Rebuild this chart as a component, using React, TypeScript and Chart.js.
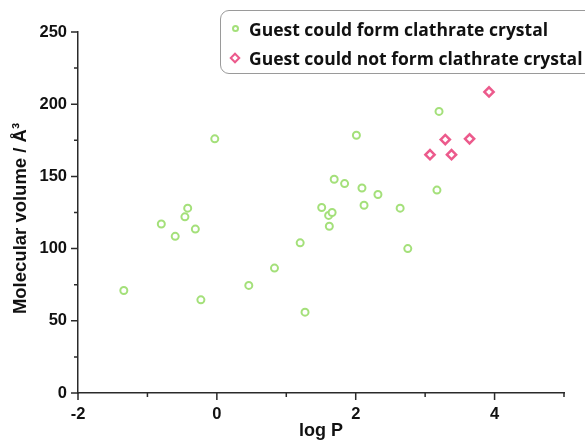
import React, { useEffect, useRef } from 'react';
import { Chart, registerables } from 'chart.js';

Chart.register(...registerables);

// ---- data ----
const formLogP = [-1.34, -0.8, -0.6, -0.46, -0.42, -0.31, -0.23, -0.03, 0.46, 0.83, 1.2, 1.27, 1.51, 1.61, 1.66, 1.62, 1.69, 1.84, 2.01, 2.09, 2.12, 2.32, 2.64, 2.75, 3.17, 3.2];
const formVolume = [71, 117, 108.5, 122, 128, 113.5, 64.5, 176, 74.5, 86.5, 104, 56, 128.5, 123, 125, 115.5, 148, 145, 178.5, 142, 130, 137.5, 128, 100, 140.5, 195];
const notFormLogP = [3.07, 3.29, 3.38, 3.64, 3.92];
const notFormVolume = [165, 175.5, 165, 176, 208.5];

const xMajorTicks = [-2, 0, 2, 4];
const xMinorTicks = [-1, 1, 3, 5];
const yMajorTicks = [0, 50, 100, 150, 200, 250];
const yMinorTicks = [25, 75, 125, 175, 225];

const seriesLabels = ['Guest could form clathrate crystal', 'Guest could not form clathrate crystal'];
const xTitle = 'log P';
const yTitle = 'Molecular volume / Å³';

const GREEN = '#a4e07a';
const PINK = '#ec5a8c';
const AXIS = '#2a2a2a';
const FONT = "'Liberation Sans', Arial, sans-serif";

const tickMarksPlugin = {
  id: 'tickMarks',
  afterDraw(chart: any) {
    const { ctx, chartArea } = chart;
    const xs = chart.scales.x;
    const ys = chart.scales.y;
    const base = ys.getPixelForValue(0);
    const left = xs.getPixelForValue(-2);
    ctx.save();
    ctx.strokeStyle = AXIS;
    ctx.lineWidth = 1.5;
    ctx.beginPath();
    const drawX = (v: number, len: number) => {
      const p = xs.getPixelForValue(v);
      ctx.moveTo(p, base);
      ctx.lineTo(p, base + len);
    };
    const drawY = (v: number, len: number) => {
      const p = ys.getPixelForValue(v);
      ctx.moveTo(left, p);
      ctx.lineTo(left - len, p);
    };
    xMajorTicks.forEach((v) => drawX(v, 7));
    xMinorTicks.forEach((v) => drawX(v, 4));
    yMajorTicks.forEach((v) => drawY(v, 7));
    yMinorTicks.forEach((v) => drawY(v, 4));
    ctx.stroke();

    // y-axis title
    ctx.translate(21, (chartArea.top + chartArea.bottom) / 2 + 6);
    ctx.rotate(-Math.PI / 2);
    ctx.fillStyle = '#111';
    ctx.font = `bold 18.5px ${FONT}`;
    ctx.textAlign = 'center';
    ctx.textBaseline = 'middle';
    ctx.fillText(yTitle, 0, 0);
    ctx.restore();
  },
};

function LegendMarker({ kind }: { kind: 'circle' | 'diamond' }) {
  if (kind === 'circle') {
    return (
      <span
        style={{
          display: 'inline-block',
          width: 3,
          height: 3,
          borderRadius: '50%',
          border: `2px solid ${GREEN}`,
          background: '#fff',
        }}
      />
    );
  }
  return (
    <span
      style={{
        display: 'inline-block',
        width: 4,
        height: 4,
        border: `2.5px solid ${PINK}`,
        background: '#fff',
        transform: 'rotate(45deg)',
      }}
    />
  );
}

export default function App() {
  const canvasRef = useRef<HTMLCanvasElement | null>(null);

  useEffect(() => {
    document.body.style.margin = '0';
    const canvas = canvasRef.current;
    if (!canvas) return;
    const chart = new Chart(canvas, {
      type: 'scatter',
      data: {
        datasets: [
          {
            label: seriesLabels[0],
            data: formLogP.map((x, i) => ({ x, y: formVolume[i] })),
            pointStyle: 'circle',
            pointRadius: 3.5,
            borderWidth: 2,
            borderColor: GREEN,
            backgroundColor: '#ffffff',
          },
          {
            label: seriesLabels[1],
            data: notFormLogP.map((x, i) => ({ x, y: notFormVolume[i] })),
            pointStyle: 'rectRot',
            pointRadius: 4.6,
            borderWidth: 2.5,
            borderColor: PINK,
            backgroundColor: '#ffffff',
          },
        ],
      },
      options: {
        responsive: false,
        animation: false,
        layout: { padding: { left: 0, top: 32, right: 21, bottom: 0 } },
        plugins: {
          legend: { display: false },
          tooltip: { enabled: false },
        },
        scales: {
          x: {
            type: 'linear',
            min: -2,
            max: 5,
            afterBuildTicks: (s: any) => {
              s.ticks = xMajorTicks.map((value) => ({ value }));
            },
            afterFit: (s: any) => {
              s.height = 48;
            },
            grid: { drawOnChartArea: false, drawTicks: true, tickLength: 7, tickColor: 'rgba(0,0,0,0)' },
            border: { display: true, color: AXIS, width: 1.5 },
            ticks: {
              padding: 5,
              color: '#111',
              font: { family: FONT, size: 16.5, weight: 'bold' },
              callback: (v: any) => String(v),
              maxRotation: 0,
            },
            title: {
              display: true,
              text: xTitle,
              color: '#111',
              padding: { top: 0, bottom: 0 },
              font: { family: FONT, size: 18, weight: 'bold', lineHeight: 1.1 },
            },
          },
          y: {
            type: 'linear',
            min: 0,
            max: 250,
            afterBuildTicks: (s: any) => {
              s.ticks = yMajorTicks.map((value) => ({ value }));
            },
            afterFit: (s: any) => {
              s.width = 78;
            },
            grid: { drawOnChartArea: false, drawTicks: true, tickLength: 7, tickColor: 'rgba(0,0,0,0)' },
            border: { display: true, color: AXIS, width: 1.5 },
            ticks: {
              padding: 4,
              color: '#111',
              font: { family: FONT, size: 16.5, weight: 'bold' },
              callback: (v: any) => String(v),
            },
          },
        },
      },
      plugins: [tickMarksPlugin],
    });
    return () => chart.destroy();
  }, []);

  const rowStyle: React.CSSProperties = {
    position: 'absolute',
    left: 0,
    height: 29,
    display: 'flex',
    alignItems: 'center',
    whiteSpace: 'nowrap',
  };

  return (
    <div style={{ position: 'relative', width: 585, height: 441, overflow: 'hidden', background: '#fff' }}>
      <canvas ref={canvasRef} width={585} height={441} style={{ display: 'block' }} />
      <div
        style={{
          position: 'absolute',
          left: 220,
          top: 10,
          width: 400,
          height: 62,
          border: '1px solid #9a9a9a',
          borderRadius: 9,
          background: '#fff',
          fontFamily: "'Open Sans', Lato, sans-serif",
          fontWeight: 700,
          fontSize: 17.5,
          color: '#111',
        }}
      >
        <div style={{ ...rowStyle, top: 3 }}>
          <span style={{ width: 28, display: 'inline-flex', justifyContent: 'center' }}>
            <LegendMarker kind="circle" />
          </span>
          <span>{seriesLabels[0]}</span>
        </div>
        <div style={{ ...rowStyle, top: 32 }}>
          <span style={{ width: 28, display: 'inline-flex', justifyContent: 'center' }}>
            <LegendMarker kind="diamond" />
          </span>
          <span>{seriesLabels[1]}</span>
        </div>
      </div>
    </div>
  );
}
